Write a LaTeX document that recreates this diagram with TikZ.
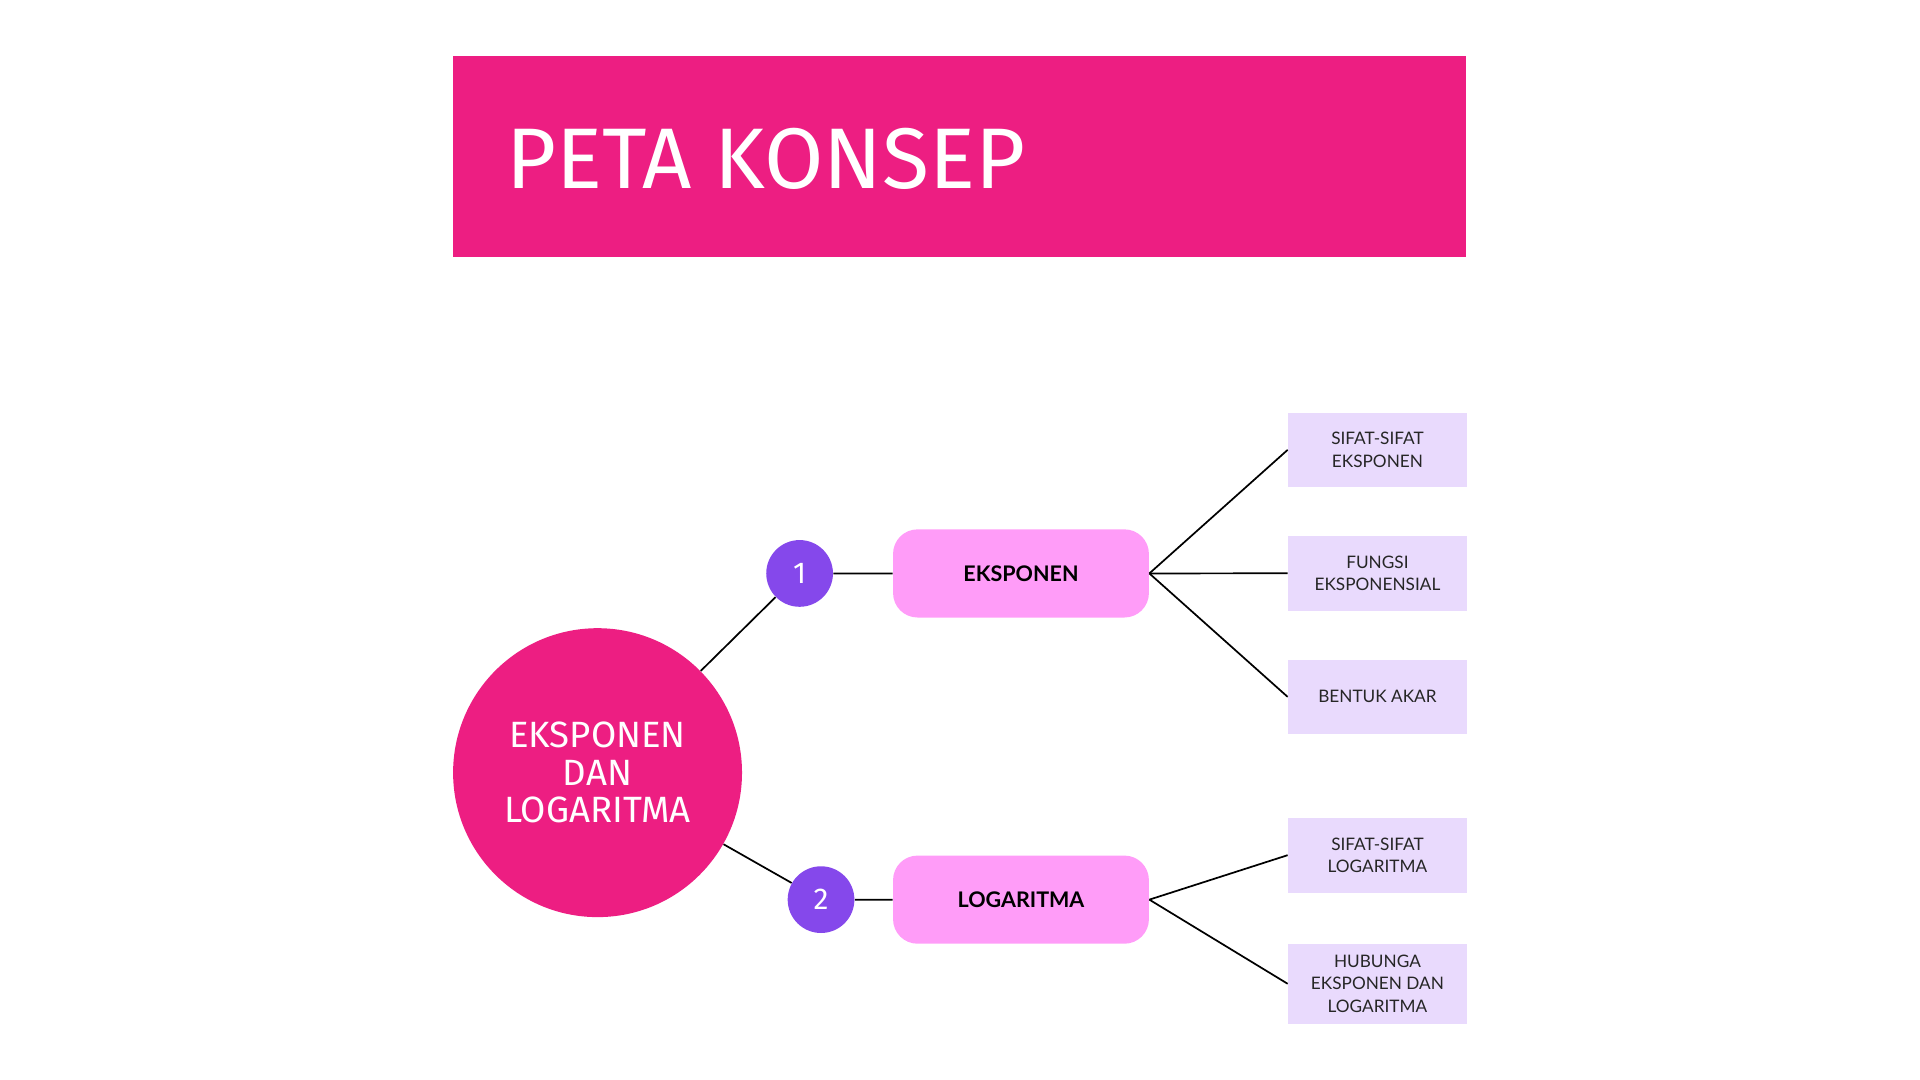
\documentclass[tikz,border=0pt]{standalone}
\usepackage{fontspec}
\setmainfont{Lato}
\newfontfamily\techfont{Fira Sans}
\usetikzlibrary{positioning}
\definecolor{mypink}{RGB}{237,30,130}
\definecolor{mypurple}{RGB}{133,72,235}
\definecolor{mylilac}{RGB}{255,156,248}
\definecolor{mylavender}{RGB}{233,218,253}

\begin{document}
\begin{tikzpicture}[x=0.02cm, y=-0.02cm]
	  \tikzstyle{every node} = [inner sep=0pt]
	  \tikzstyle{number} = [circle, fill=mypurple, minimum size=1.09cm, text=white, font=\techfont\fontsize{14}{14}\selectfont]
	  \tikzstyle{topic} = [rounded corners=0.4cm, fill=mylilac, minimum width=4.18cm, minimum height=1.44cm, font=\bfseries\fontsize{10}{12}\selectfont]
	  \tikzstyle{leaf} = [fill=mylavender, minimum width=2.92cm, minimum height=1.22cm, align=center, text=black!85, font=\fontsize{8}{10.5}\selectfont]
	  \tikzstyle{link} = [line width=0.8pt, black]
	  \useasboundingbox (0,0) rectangle (1568,882);
	  % header
	  \node (banner)[fill=mypink, minimum width=16.55cm, minimum height=3.28cm] at (783.7, 128) {};
	  \node (title)[anchor=west, text=white, font=\techfont\fontsize{40}{40}\selectfont] at (413, 130) {PETA KONSEP};
	  % map
	  \node (main)[circle, fill=mypink, minimum size=4.72cm, text=white, align=center, font=\techfont\fontsize{17}{17.4}\selectfont] at (488, 631) {EKSPONEN\\DAN\\LOGARITMA};
	  \node (n1)[number] at (653, 468.3) {1};
	  \node (n2)[number] at (670.5, 734.7) {2};
	  \node (eks)[topic] at (833.8, 468.3) {EKSPONEN};
	  \node (log)[topic] at (833.8, 734.7) {LOGARITMA};
	  \node (s1)[leaf] at (1124.9, 367.4) {SIFAT-SIFAT\\EKSPONEN};
	  \node (s2)[leaf] at (1124.9, 468.2) {FUNGSI\\EKSPONENSIAL};
	  \node (s3)[leaf] at (1124.9, 569.1) {BENTUK AKAR};
	  \node (s4)[leaf] at (1124.9, 698.4) {SIFAT-SIFAT\\LOGARITMA};
	  \node (s5)[leaf, minimum height=1.3cm] at (1124.9, 803.4) {HUBUNGA\\EKSPONEN DAN\\LOGARITMA};
	  \draw [link] (main) -- (n1) -- (eks);
	  \draw [link] (main) -- (n2) -- (log);
	  \foreach \to in {s1,s2,s3}
	    \draw [link] (eks.east) -- (\to.west);
	  \foreach \to in {s4,s5}
	    \draw [link] (log.east) -- (\to.west);
\end{tikzpicture}
\end{document}
